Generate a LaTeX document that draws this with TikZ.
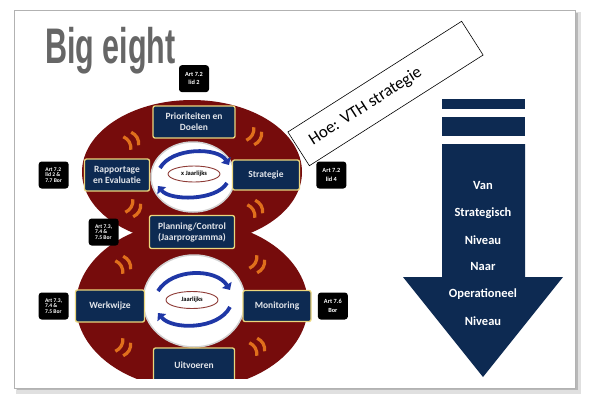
\documentclass[tikz,border=0pt]{standalone}
\usepackage{fontspec}
\setmainfont{Carlito}
\newfontfamily\titlefont{Liberation Sans}
\usetikzlibrary{positioning,arrows.meta,shapes.geometric}
\definecolor{eightred}{HTML}{760C0C}
\definecolor{navy}{HTML}{0D2A52}
\definecolor{boxyellow}{HTML}{EBD67C}
\definecolor{swooshorange}{HTML}{E06F1C}
\definecolor{cycleblue}{HTML}{1F37A6}
\definecolor{ringbrown}{HTML}{8E3B36}
\tikzset{
 stepbox/.style={draw=boxyellow,line width=1.3pt,fill=navy,rounded corners=2pt,
  text=white!88!navy,font=\bfseries\fontsize{9.5}{11}\selectfont,align=center,inner sep=1pt},
 tag/.style={fill=black,rounded corners=3pt,text=white,align=center,
  font=\bfseries\fontsize{6.3}{8.5}\selectfont,minimum width=30pt,minimum height=27pt,inner sep=1pt},
 tagthree/.style={tag,align=left,font=\bfseries\fontsize{5.6}{5.8}\selectfont},
 yearring/.style={ellipse,draw=ringbrown,line width=0.9pt,fill=white,inner sep=0pt,
  font=\bfseries\fontsize{6.5}{7}\selectfont},
 cyclearrow/.style={cycleblue,line width=3.8pt,-{Triangle[width=11pt,length=6pt]}},
 swoosh/.pic={\draw[swooshorange,line width=3.2pt] (-4.5,-7.5) to[bend left=35] (-4.5,7.5)
   (4.5,-7.5) to[bend left=35] (4.5,7.5);},
 arrowtext/.style={text=white,font=\bfseries\fontsize{12.5}{14}\selectfont}
}
\begin{document}
\begin{tikzpicture}[x=1pt,y=-1pt]
 \useasboundingbox (0,0) rectangle (589,400);
 \fill[black!12] (16,12) rectangle (581,394);
 \fill[black!28] (17,13) rectangle (578,390);
 \draw[gray!60,fill=white] (14,10) rectangle (575,388);

 \node[anchor=base west,inner sep=0pt,text=black!60] (title) at (45,63)
  {\titlefont\bfseries\fontsize{50}{50}\selectfont\scalebox{0.61}[1]{Big eight}};

 \begin{scope}
  \clip (15,11) rectangle (574,378);
  \fill[eightred] (192,172) ellipse [x radius=110,y radius=72];
  \fill[eightred] (192,305) ellipse [x radius=116,y radius=84];
  \fill[white,draw=gray!35,line width=1.5pt] (193,177) ellipse [x radius=42,y radius=35];
  \fill[white,draw=gray!35,line width=1.5pt] (194,301) ellipse [x radius=51,y radius=46];
  \foreach \px/\py/\ang in {131/141/30,254/136/-30,133/208/-30,255/209/30,
    123/265/30,257/264/-30,123/347/-30,257/347/30}
   {\pic[rotate=\ang] at (\px,\py) {swoosh};}

  \node[yearring,minimum width=52pt,minimum height=16pt] (cycleup) at (194,174) {x Jaarlijks};
  \coordinate (upa) at (160,168); \coordinate (upb) at (229,165);
  \coordinate (upc) at (227,183); \coordinate (upd) at (158,186);
  \draw[cyclearrow] (upa) .. controls (172,147) and (218,147) .. (upb);
  \draw[cyclearrow] (upc) .. controls (216,201) and (170,201) .. (upd);

  \node[yearring,minimum width=52pt,minimum height=17pt] (cyclelow) at (192,300) {Jaarlijks};
  \coordinate (lowa) at (158,291); \coordinate (lowb) at (230,290);
  \coordinate (lowc) at (230,307); \coordinate (lowd) at (158,313);
  \draw[cyclearrow] (lowa) .. controls (172,268) and (216,268) .. (lowb);
  \draw[cyclearrow] (lowc) .. controls (218,330) and (172,330) .. (lowd);

  \node[stepbox,minimum width=82pt,minimum height=32pt] (prio) at (194,122) {Prioriteiten en\\Doelen};
  \node[stepbox,minimum width=65pt,minimum height=32pt] (rapp) at (117,175) {Rapportage\\en Evaluatie};
  \node[stepbox,minimum width=67pt,minimum height=30pt] (strat) at (266,175) {Strategie};
  \node[stepbox,minimum width=85pt,minimum height=33pt] (plan) at (192,232) {Planning/Control\\(Jaarprogramma)};
  \node[stepbox,minimum width=69pt,minimum height=32pt] (werk) at (110,306) {Werkwijze};
  \node[stepbox,minimum width=68pt,minimum height=31pt] (moni) at (277,306) {Monitoring};
  \node[stepbox,minimum width=81pt,minimum height=34pt] (uitv) at (194,365) {Uitvoeren};
 \end{scope}

 \node[tag,above=13pt of prio] (artprio) {Art 7.2\\lid 2};
 \node[tagthree,left=15pt of rapp] (artrapp) {Art 7.2\\lid 2 \&\\7.7 Bor};
 \node[tag,right=16pt of strat] (artstrat) {Art 7.2\\lid 4};
 \node[tagthree,left=30pt of plan] (artplan) {Art 7.3,\\7.4 \&\\7.5 Bor};
 \node[tagthree,left=6pt of werk] (artwerk) {Art 7.3,\\7.4 \&\\7.5 Bor};
 \node[tag,right=6pt of moni] (artmoni) {Art 7.6\\Bor};

 \node[draw,fill=white,line width=0.6pt,rotate=32.5,minimum width=206pt,minimum height=40pt] (hoe) at (385.5,93.5) {};
 \node[rotate=32.5,font=\fontsize{17}{20}\selectfont] (hoetext) at ([shift={(-20,13)}]hoe.center) {Hoe: VTH strategie};

 \fill[navy] (442,99) rectangle (525,109);
 \fill[navy] (442,117) rectangle (525,136);
 \fill[navy] (442,144) -- (525,144) -- (525,277) -- (563,277) -- (483,377)
  -- (403,277) -- (442,277) -- cycle;
 \node[arrowtext] (van) at (483,185) {Van};
 \node[arrowtext] (strategisch) at (483,213) {Strategisch};
 \node[arrowtext] (niveauone) at (483,240) {Niveau};
 \node[arrowtext] (naar) at (483,266) {Naar};
 \node[arrowtext] (operationeel) at (483,294) {Operationeel};
 \node[arrowtext] (niveautwo) at (483,321) {Niveau};
\end{tikzpicture}
\end{document}
